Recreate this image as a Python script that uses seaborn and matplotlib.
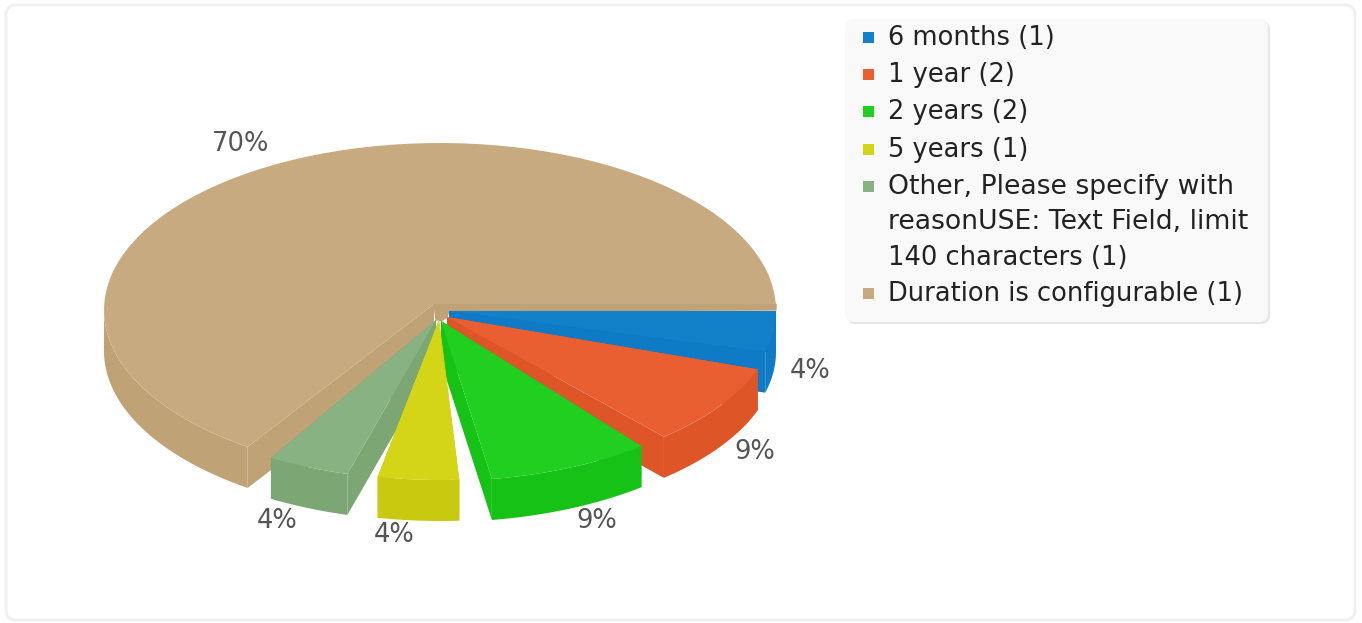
import numpy as np
import matplotlib
matplotlib.use("Agg")
import matplotlib.pyplot as plt
from matplotlib.patches import FancyBboxPatch, Polygon, Rectangle
import seaborn as sns

# ---- data ----
categories = ["6 months", "1 year", "2 years", "5 years",
              "Other, Please specify with\nreasonUSE: Text Field, limit\n140 characters", "Duration is configurable"]
counts = [1, 2, 2, 1, 1, 1]
shares = [4.35, 8.7, 8.7, 4.35, 4.35, 69.55]

# ---- styles and layout ----
top_colors = ["#1281c9", "#e95f32", "#20cf20", "#d5d518", "#88b282", "#c7aa80"]
side_colors = ["#0f7bc6", "#de5627", "#16c216", "#c9c90f", "#7ca775", "#bfa276"]
tips = [(449, 311), (447, 317), (441, 321), (439, 320), (436, 320), (434, 304)]
rim_centres = [(449, 311), (444, 317), (441, 321), (441, 320), (436, 320), (440, 310)]
radii = [(327, 160), (332, 160), (322, 160), (320, 160), (325, 160), (336, 167)]
label_xy = [(810, 371), (755, 452), (597, 521), (394, 535), (277, 521), (241, 144)]
gaps = [4.4, 3.0, 5.8, 4.4, 4.4]
draw_order = [5, 0, 1, 2, 4, 3]
DEPTH = 41
N_PTS = 80
LINE_STEP = 35.5
LEGEND_SIZE = 18.5
WRAPPED_SIZE = 19.2

sns.set_theme(style="white")
plt.rcParams["font.family"] = ["DejaVu Sans"]
fig = plt.figure(figsize=(13.62, 6.23), dpi=100, facecolor="white")
ax = fig.add_axes([0, 0, 1, 1])
ax.set_xlim(0, 1362)
ax.set_ylim(623, 0)
ax.axis("off")

# outer panel
ax.add_patch(FancyBboxPatch((6, 5), 1349, 615, boxstyle="round,pad=0,rounding_size=10",
                            fc="white", ec="#f0f0f0", lw=2, zorder=0))

# slice angles: clockwise from 3 o'clock, gaps taken out of the full circle
fractions = np.array(shares, dtype=float) / sum(shares)
usable = 360 - sum(gaps)
starts, ends, a = [], [], 0.0
for i, f in enumerate(fractions):
    starts.append(a)
    a += f * usable
    ends.append(a)
    if i < len(gaps):
        a += gaps[i]


def rim(i, t0, t1):
    t = np.radians(np.linspace(t0, t1, N_PTS))
    cx, cy = rim_centres[i]
    rx, ry = radii[i]
    return np.column_stack([cx + rx * np.cos(t), cy + ry * np.sin(t)])


def face(tip, p, z, color):
    ax.add_patch(Polygon([tip, p, p + down, tip + down], closed=True, fc=color, ec="none", zorder=z))


z = 2
down = np.array([0, DEPTH])
for i in draw_order:
    arc = rim(i, starts[i], ends[i])
    tip = np.array(tips[i], dtype=float)
    is_big = ends[i] - starts[i] > 180
    if is_big:
        # the big slice: end wall, outer wall up to the far left, and the thin band behind the other slices
        face(tip, arc[0], z, side_colors[i])
        wall = rim(i, starts[i], 180)
        ax.add_patch(Polygon(np.vstack([wall, (wall + down)[::-1]]), closed=True,
                             fc=side_colors[i], ec="none", zorder=z))
        right = arc[-1]
        band = [tip, (right[0], tip[1]), right, tips[0], tips[1], tips[2], tips[3], tips[4]]
        ax.add_patch(Polygon(band, closed=True, fc=side_colors[i], ec=side_colors[i], lw=1, zorder=z))
        pts = np.vstack([[tip], arc, [[right[0], tip[1]]]])
    else:
        face(tip, arc[0], z, side_colors[i])
        face(tip, arc[-1], z, side_colors[i])
        ax.add_patch(Polygon(np.vstack([arc, (arc + down)[::-1]]), closed=True,
                             fc=side_colors[i], ec="none", zorder=z))
        pts = np.vstack([[tip], arc])
    ax.add_patch(Polygon(pts, closed=True, fc=top_colors[i], ec="none", zorder=z + 0.5))
    z += 1

for i, (x, y) in enumerate(label_xy):
    ax.text(x, y, f"{shares[i]:.0f}%", ha="center", va="center", fontsize=18.5, color="#555555", zorder=20)

# legend
ax.add_patch(FancyBboxPatch((847, 21), 423, 303, boxstyle="round,pad=0,rounding_size=9",
                            fc="#e6e6e6", ec="none", zorder=21))
ax.add_patch(FancyBboxPatch((845, 19), 423, 303, boxstyle="round,pad=0,rounding_size=9",
                            fc="#f9f9f9", ec="none", zorder=22))
baselines = [45, 82, 119, 157, 194, 301]
for i, cat in enumerate(categories):
    b = baselines[i]
    ax.add_patch(Rectangle((863, b - 13), 11, 11, fc=top_colors[i], ec="none", zorder=23))
    lines = f"{cat} ({counts[i]})".split("\n")
    for k, line in enumerate(lines):
        size = WRAPPED_SIZE if len(lines) > 1 and k < len(lines) - 1 else LEGEND_SIZE
        ax.text(888, b + k * LINE_STEP, line, ha="left", va="baseline", fontsize=size,
                color="#222222", zorder=23)

fig.savefig("out.png", dpi=100, facecolor="white")
